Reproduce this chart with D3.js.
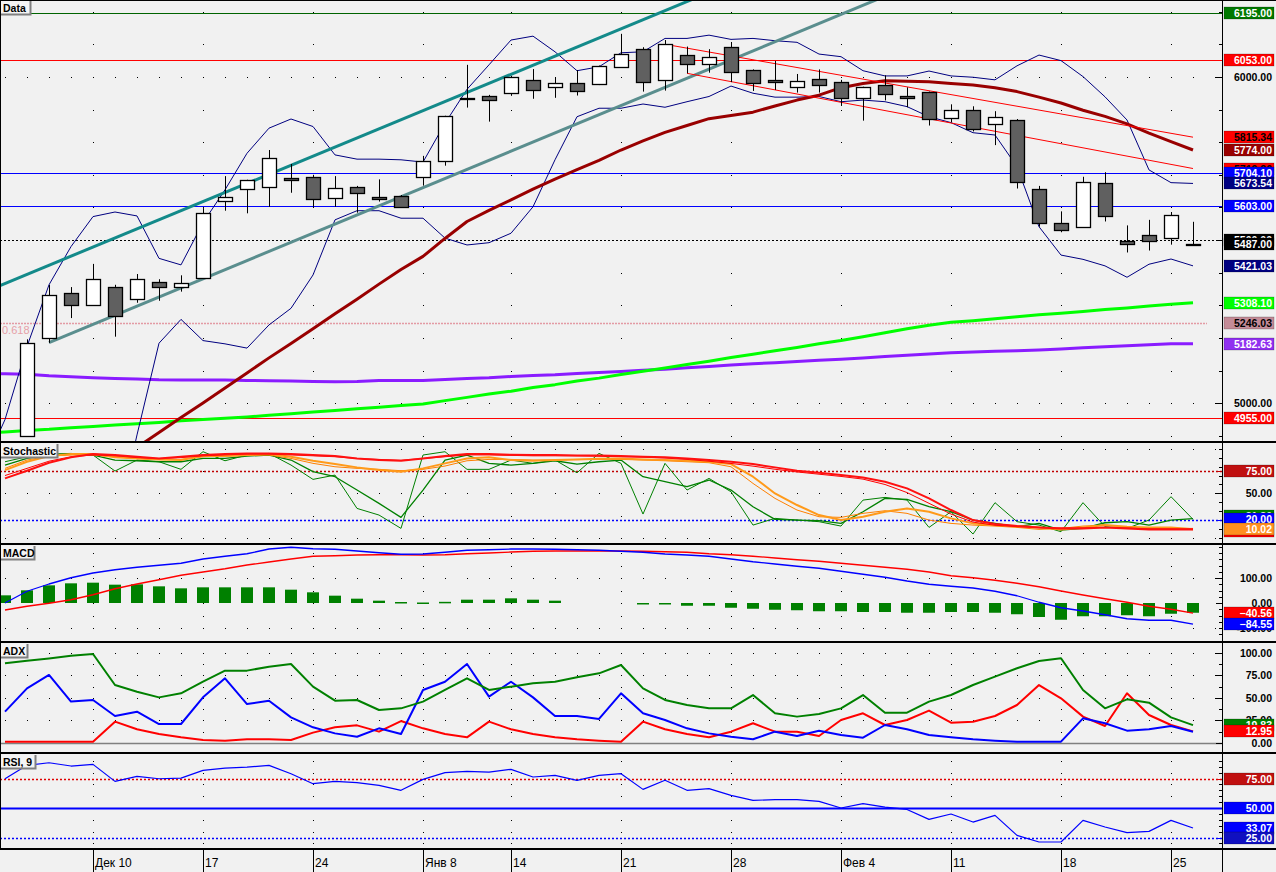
<!DOCTYPE html>
<html><head><meta charset="utf-8">
<script src="https://cdn.jsdelivr.net/npm/d3@7"></script>
<style>body{margin:0;background:#f0f0f0}svg{display:block}</style>
</head><body><div id="chart"></div>
<script>
// ---------------- DATA ----------------
const dates = ["12-05","12-06","12-07","12-10","12-11","12-12","12-13","12-14","12-17","12-18","12-19","12-20","12-21",
"12-24","12-25","12-26","12-27","12-28","01-08","01-09","01-10","01-11","01-14","01-15","01-16","01-17","01-18",
"01-21","01-22","01-23","01-24","01-25","01-28","01-29","01-30","01-31","02-01","02-04","02-05","02-06","02-07","02-08",
"02-11","02-12","02-13","02-14","02-15","02-18","02-19","02-20","02-21","02-22","02-25","02-26"];
const open  = [4900,5199,5337,5300,5356,5319,5373,5357,5382,5619,5656,5662,5689,5693,5627,5662,5631,5635,5694,5742,5934,5941,5949,5990,5968,5980,5977,6030,6085,5990,6066,6039,6091,6020,5990,5968,5993,5984,5935,5974,5941,5953,5873,5898,5855,5867,5656,5552,5539,5674,5498,5515,5506,5489];
const close = [5184,5331,5300,5380,5268,5380,5357,5370,5582,5631,5683,5751,5684,5627,5659,5643,5625,5602,5742,5879,5936,5928,5999,5959,5980,5956,6033,6069,5984,6100,6039,6060,6014,5980,5984,5987,5974,5935,5968,5947,5935,5870,5898,5840,5876,5677,5552,5530,5677,5573,5490,5496,5576,5487];
const high  = [5196,5363,5356,5427,5363,5396,5380,5392,5598,5696,5685,5776,5733,5700,5696,5666,5686,5638,5758,5881,6037,5945,6003,6024,5999,6021,6035,6132,6091,6113,6093,6085,6107,6023,6049,6009,6023,5991,5970,6005,5968,5955,5916,5910,5895,5871,5666,5588,5694,5708,5545,5562,5586,5556];
const low   = [4897,5185,5261,5298,5204,5308,5314,5342,5382,5590,5582,5602,5645,5602,5602,5584,5618,5601,5667,5728,5906,5863,5942,5933,5936,5943,5975,6028,5955,5958,6011,6013,5984,5957,5960,5952,5952,5911,5866,5928,5907,5851,5861,5833,5791,5658,5541,5524,5538,5557,5462,5468,5486,5485];

// overlay series start at bar index -2
const smaRed = [4500,4550,4640,4686,4730,4775,4820,4865,4910,4956,5001,5047,5093,5139,5183,5228,5274,5319,5365,5410,5450,5505,5557,5591,5623,5656,5687,5716,5744,5776,5804,5830,5851,5872,5882,5892,5911,5929,5944,5967,5980,5988,5987,5985,5980,5975,5967,5955,5938,5920,5898,5879,5856,5828,5802,5776];
const maGreen = [4908,4912,4916.5,4920,4925,4929,4933,4937,4941,4946,4950,4954,4958,4963,4968,4973,4978,4983,4988,4993,4998,5008,5018,5028,5037,5048,5057,5068,5077,5088,5098,5108,5119,5129,5140,5150,5161,5171,5182,5192,5204,5216,5228,5239,5248,5253,5259,5265,5271,5276,5281,5287,5292,5298,5303,5308.1];
const maPurple = [5091,5090,5089,5084,5081,5078,5076,5074,5072,5071.5,5071,5071,5070,5069,5068,5067,5066,5067,5069.5,5069.5,5070,5073,5076,5078,5082,5085,5087,5091,5094,5097,5101,5104.5,5108.5,5112.5,5117,5121,5124,5128,5132,5135,5139,5143,5147,5151,5154.5,5157,5159,5161,5163.5,5166.5,5170,5173,5176,5179,5182,5182.63];
const bbUpper = [4800,4950,5174,5363,5480,5572,5586,5574,5444,5424,5553,5654,5766,5843,5871,5848,5761,5748,5748,5746,5739,5858,5962,6037,6113,6125,6077,6019,6031,6074,6077,6118,6118,6128,6115,6118,6111,6106,6070,6062,6019,6003,6003,6018,6003,5999,5991,6034,6067,6050,6001,5939,5868,5715,5676,5673.54];
const bbLower = [4600,4650,4750,4650,4590,4560,4600,4903,5184,5257,5192,5182,5169,5240,5291,5393,5562,5590,5590,5567,5567,5506,5485,5492,5521,5602,5746,5878,5904,5904,5917,5907,5924,5940,5972,5950,5938,5938,5940,5924,5929,5924,5909,5878,5860,5829,5822,5725,5541,5454,5441,5421,5386,5426,5442,5421.03];

// trend lines: [barIndex, price] anchor pairs
const tealUpper = [[0,5395],[30,6231]];
const tealLower = [[1,5186],[38,6219.5]];
const redUpper = [[29,6100],[53,5815.34]];
const redLower = [[30,6011],[53,5719.26]];

const priceLevels = [6195, 6053, 5704.10, 5603, 5500, 4955];
const fibLevel = 5246.03;

// indicator series start at bar index -1
const stochFast = [85.4,91,94,94.7,92.9,75,87.3,85.4,76.9,96.6,86.5,92.9,94.7,81.7,65.7,70.5,33.3,25.9,11,92.9,96.6,76.9,76.9,87.3,83.6,87.3,73.1,94.7,83.6,27,83.6,53.8,66.8,51.9,14.7,22.2,20.3,18.5,13.6,42.6,45.6,42.6,12.1,29.6,4.7,39.7,18.5,14.7,7.3,39.7,12.9,11,20.3,46.4,21.1];
const stochSlow = [81.7,89.1,92.9,94,92.9,87.3,86.5,85.4,85.4,89.1,89.1,91.7,92.9,87.3,74.3,68.7,53.8,38.9,23.3,53.8,87.3,92.9,83.6,81.7,83.6,86.5,82.8,85.4,87.3,68.7,63.1,57.5,65,53.8,35.2,21.1,20.3,19.6,16.6,29.6,44.5,43.4,35.2,29.6,20.3,16.6,12.9,16.6,9.2,11,17.3,18.5,14.7,20.3,21.8];
const stochD1 = [76.1,85.4,91.7,94,94,90.3,89.1,88,87.3,91.7,91.7,92.9,94,91,86.5,82.8,79.1,76.1,74.3,78,83.6,89.1,90.3,87.3,86.5,87.3,88,88.8,89.1,88,87.3,86.5,85.4,82.8,68.7,50,37.1,25.9,20.3,24,29.6,33.3,29.6,22.2,16.6,14.7,13.6,12.1,9.9,12.1,14.7,12.9,12.1,12.1,10.02];
const stochD2 = [78,87.3,91.7,92.9,92.9,91,89.1,88,88,91,91.7,92.5,92.9,89.1,83.6,79.8,78,76.9,75.4,76.9,80.6,86.5,88,88,87.3,87.3,88,88,88,87.3,86.5,85.4,84.3,79.8,61.2,44.5,31.5,24,23.3,27.8,30.7,27.8,20.3,16.6,14.7,13.6,12.1,9.9,11,13.6,14.7,12.1,11,11,11];
const stochR1 = [66.8,75.4,84.3,90.3,94,92.9,91,89.1,91,92.9,94,94.7,94.7,94,92.9,91.7,89.1,87.3,86.5,89.1,91.7,94,94,93.2,92.9,92.9,92.5,92.5,91.7,91,90.3,89.1,87.3,85.4,82.8,79.1,75.4,73.1,70.5,67.9,63.1,55.7,44.5,31.5,20.3,15.9,13.6,12.1,11,11,12.1,11,9.9,9.9,9.9];
const stochR2 = [70,78,86,91,93,92,90,89,90,92,93,94,94,93,92,91,89,88,87,89,91,93,93,92.5,92,92,92,91.5,91,90.5,89.5,88,86,83.5,80.5,77,74,71.5,69,66,60,51,39,27,18,14.5,13,12,11.5,11.5,12,11.5,10.5,10.5,10.5];

const macdLine = [0,47,76,101,120,133,143,151,159,176,187,197,216,223,217,215,208,201,195,196,203,211,213,216,216,215,213,211,207,203,196,192,187,176,165,156,147,139,127,115,103,88,75,67,60,47,29,3,-19,-32,-47,-63,-69,-69,-84.55];
const macdSignal = [-28,-13,-1,13,33,57,76,93,111,124,137,152,164,176,187,189,192,193,193,192,193,197,200,204,207,208,208,208,208,207,205,203,197,193,187,180,173,167,159,151,143,135,124,109,101,91,79,65,48,32,17,3,-13,-25,-40.56];
const macdHist = [30.7,50.7,70.7,78.7,81.3,73.3,74.7,66.7,58.7,62.7,62.7,62.7,62.7,53.3,42.7,29.3,17.3,9.3,4,2,4.7,13.3,13.3,18.7,13.3,9.3,0,0,0,-4,-3,-11,-11,-19,-23,-27,-29,-33,-33,-36,-36,-39,-39,-36,-36,-39,-45,-56,-67,-53,-53,-49,-53,-43,-39];

const adx = [88.6,91.5,94,97,98.9,64.4,57,50.7,55.2,68.1,80.4,80.4,84.8,87.8,62.6,47,47.8,36.7,38.5,46,58.9,71.9,58.9,62.6,66.3,68.1,73,77.4,86.7,60.7,47.8,42.2,38.5,38.5,53.3,33,29.3,32.2,38.5,53.3,33.7,33.7,46,53.3,64.4,73.7,83,91.1,94.1,58.9,38.5,48.5,44.8,28.5,19.83];
const plusDI = [34.8,60.7,75.6,46,47.8,30,34.8,21.1,21.1,50.7,71.9,43.3,47,28.5,17.4,10.7,7,16.3,10,58.9,68.1,87.8,51.5,68.1,50.7,30,30,26.7,55.2,33,25.6,16.3,10.7,7,4.1,12.6,7.8,13.7,8.9,5.9,20,15.2,8.9,6.3,4.1,2.6,1.5,1.5,1.5,27.4,21.9,13.7,15.2,18.9,12.6];
const minusDI = [1.5,1.5,1.5,1.5,1.5,23.7,15.2,10,6.3,3.3,2.6,4.1,4.1,3.3,11.5,17.4,19.6,12.6,24.4,16.3,10,6.3,23.7,15.2,10,6.3,4.1,2.6,1.5,23.7,15.2,10,6.3,12.6,21.9,12.6,12.6,7.8,25.6,33,20,25.6,36,22.6,23.7,30,42.2,64.4,49.6,29.3,18.9,55.2,31.1,20,12.95];

const rsi = [74.8,86.2,88.4,85.6,87,72.6,76.8,74.8,75.4,81.9,83.9,84.7,86.2,79.1,70.6,72.6,71.5,69.2,65,74.3,80,81.1,80.5,82.8,76.3,77.7,73.5,77.7,79.1,65.8,73.5,65,66.4,60.7,56.5,57.1,57.1,55.6,50,53.7,50.8,48.8,40.4,44.9,38.1,43.8,26.8,21.2,21.2,39.5,33.9,29.1,30.2,39.5,33.07];

const tickIdx = [3,8,13,18,22,27,32,37,42,47,52];
const tickText = ["Дек 10","17","24","Янв 8","14","21","28","Фев 4","11","18","25"];

// ---------------- CHART ----------------
const W = 1276, H = 872, R = 1222;
const FONT = "'Liberation Sans', Arial, sans-serif";
const svg = d3.select('#chart').append('svg').attr('width', W).attr('height', H)
  .style('font-family', FONT);
svg.append('rect').attr('width', W).attr('height', H).attr('fill', '#f1f1f1');

const x = d3.scaleLinear().domain([0, 53]).range([27, 1193]);
const yP = d3.scaleLinear().domain([4884.3, 6235.7]).range([441, 0]);
const yS = d3.scaleLinear().domain([-5.3, 105.2]).range([543, 444]);
const yM = d3.scaleLinear().domain([-152, 232]).range([641, 545]);
const yA = d3.scaleLinear().domain([-10, 111.1]).range([752, 643]);
const yR = d3.scaleLinear().domain([16.1, 95.8]).range([848, 754]);

const defs = svg.append('defs');
function clip(id, y0, y1) {
  defs.append('clipPath').attr('id', id).append('rect').attr('x', 0).attr('y', y0).attr('width', R).attr('height', y1 - y0);
  return svg.append('g').attr('clip-path', `url(#${id})`);
}
const gP = clip('cp', 1, 441), gS = clip('cs', 444, 543), gM = clip('cm', 546, 641), gA = clip('ca', 644, 752), gR = clip('cr', 755, 848);

function dot(g, px, py) { g.append('rect').attr('x', Math.round(px)).attr('y', Math.round(py)).attr('width', 1).attr('height', 1).attr('fill', '#000'); }
const allIdx = d3.range(-1, 55);
function gridCols(g, yScale, levels) { tickIdx.forEach(i => levels.forEach(l => dot(g, x(i), yScale(l)))); }
function gridRows(g, yScale, levels) { levels.forEach(l => allIdx.forEach(i => dot(g, x(i), yScale(l)))); }

// grids
gridCols(gP, yP, d3.range(4900, 6201, 100));
gridRows(gP, yP, [5000, 6000]);
gridCols(gS, yS, [0, 25, 50, 75, 100]);
gridRows(gS, yS, [0, 50, 100]);
gridCols(gM, yM, [-100, -50, 0, 50, 100, 150, 200]);
gridRows(gM, yM, [100, -100]);
gridCols(gA, yA, [12.5, 25, 37.5, 50, 62.5, 75, 87.5, 100]);
gridRows(gA, yA, [25, 50, 75, 100]);
gridCols(gR, yR, [20, 30, 40, 60, 70, 80, 90]);

function hline(g, y, color, w, dash, x1) {
  const l = g.append('line').attr('x1', 0).attr('x2', x1 || R).attr('y1', Math.round(y) + 0.5).attr('y2', Math.round(y) + 0.5)
    .attr('stroke', color).attr('stroke-width', w || 1);
  if (dash) l.attr('stroke-dasharray', dash);
}
// price horizontal levels
const levelColor = ['#006400', '#ff0000', '#0000ff', '#0000ff', '#000000', '#ff0000'];
priceLevels.forEach((v, k) => hline(gP, yP(v), levelColor[k], 1, v === 5500 ? '2,2' : null));
hline(gP, yP(fibLevel), '#e39aa4', 1.3, '2,1', 1207);
gP.append('text').attr('x', 2).attr('y', yP(fibLevel) + 11).attr('fill', '#e6a0a8').attr('font-size', 11).text('0.618');

function seriesLine(g, arr, start, yScale, color, w) {
  g.append('path').datum(arr).attr('fill', 'none').attr('stroke', color).attr('stroke-width', w)
    .attr('stroke-linejoin', 'round')
    .attr('d', d3.line().x((d, k) => x(k + start)).y(d => yScale(d)));
}
function trend(g, pts, i0, i1, color, w) {
  const [[a, pa], [b, pb]] = pts;
  const f = i => pa + (pb - pa) * (i - a) / (b - a);
  g.append('path').datum([i0, i1]).attr('fill', 'none').attr('stroke', color).attr('stroke-width', w)
    .attr('d', d3.line().x(i => x(i)).y(i => yP(f(i))));
}

// moving averages & bands
seriesLine(gP, maPurple, -2, yP, '#8a1cff', 3);
seriesLine(gP, maGreen, -2, yP, '#00ff00', 3);
seriesLine(gP, bbUpper, -2, yP, '#000080', 1);
seriesLine(gP, bbLower, -2, yP, '#000080', 1);
seriesLine(gP, smaRed, -2, yP, '#990000', 3);
trend(gP, tealUpper, -1.3, 33, '#138a8a', 3);
trend(gP, tealLower, 1, 40, '#5a8e8e', 3);
trend(gP, redUpper, 29, 53, '#ff0000', 1);
trend(gP, redLower, 30, 53, '#ff0000', 1);

// candles
d3.range(open.length).forEach(i => {
  const cx = Math.round(x(i)) + 0.5;
  gP.append('line').attr('x1', cx).attr('x2', cx).attr('y1', yP(high[i])).attr('y2', yP(low[i])).attr('stroke', '#000');
  const top = yP(Math.max(open[i], close[i])), bot = yP(Math.min(open[i], close[i]));
  gP.append('rect').attr('x', cx - 7).attr('y', Math.round(top) + 0.5).attr('width', 14)
    .attr('height', Math.max(1, Math.round(bot - top)))
    .attr('fill', close[i] >= open[i] ? '#ffffff' : '#606060').attr('stroke', '#000').attr('stroke-width', 1.3);
});

// stochastic
hline(gS, yS(75), '#c00000', 1.3, '2,2');
hline(gS, yS(20), '#0000ff', 1.3, '2,2');
seriesLine(gS, stochFast, -1, yS, '#008000', 1);
seriesLine(gS, stochSlow, -1, yS, '#008000', 1.3);
seriesLine(gS, stochD2, -1, yS, '#ff8000', 1);
seriesLine(gS, stochD1, -1, yS, '#ff9a1a', 2);
seriesLine(gS, stochR2, -1, yS, '#ff0000', 1);
seriesLine(gS, stochR1, -1, yS, '#ff1010', 2);

// MACD
macdHist.forEach((v, k) => {
  if (v === 0) return;
  const y0 = yM(0), y1 = yM(v);
  gM.append('rect').attr('x', Math.round(x(k - 1)) - 6).attr('width', 12)
    .attr('y', Math.min(y0, y1)).attr('height', Math.max(1.5, Math.abs(y1 - y0))).attr('fill', '#008000');
});
seriesLine(gM, macdSignal, -1, yM, '#ff0000', 1.3);
seriesLine(gM, macdLine, -1, yM, '#0000ff', 1.3);

// ADX
hline(gA, yA(0), '#808080', 1.3);
seriesLine(gA, minusDI, -1, yA, '#ff0000', 2);
seriesLine(gA, plusDI, -1, yA, '#0000ff', 2);
seriesLine(gA, adx, -1, yA, '#008000', 2);

// RSI
hline(gR, yR(75), '#e00000', 1.3, '2,2');
hline(gR, yR(50), '#0000ff', 2);
hline(gR, yR(25), '#0000ff', 1.3, '2,2');
seriesLine(gR, rsi, -1, yR, '#0000ff', 1.2);

// panel borders
svg.append('rect').attr('x', 0).attr('y', 0).attr('width', R).attr('height', 1).attr('fill', '#000');
svg.append('rect').attr('x', 0).attr('y', 0).attr('width', 1).attr('height', 849).attr('fill', '#000');
[[441, 2], [543, 2], [641, 2], [752, 2], [848, 2]].forEach(([y, h]) =>
  svg.append('rect').attr('x', 0).attr('y', y).attr('width', W).attr('height', h).attr('fill', '#000'));
svg.append('rect').attr('x', R).attr('y', 0).attr('width', 1).attr('height', H).attr('fill', '#000');
svg.append('rect').attr('x', 0).attr('y', 0).attr('width', W).attr('height', 1).attr('fill', '#000');

// axis ticks (left of axis line)
function axisTicks(yScale, minor, major) {
  minor.forEach(v => svg.append('line').attr('x1', R - 3).attr('x2', R).attr('y1', Math.round(yScale(v)) + 0.5).attr('y2', Math.round(yScale(v)) + 0.5).attr('stroke', '#000'));
  major.forEach(v => svg.append('line').attr('x1', R - 6).attr('x2', R).attr('y1', Math.round(yScale(v)) + 0.5).attr('y2', Math.round(yScale(v)) + 0.5).attr('stroke', '#000'));
}
axisTicks(yP, d3.range(4900, 6201, 100), [5000, 6000]);
axisTicks(yS, d3.range(0, 101, 10), [50]);
axisTicks(yM, d3.range(-125, 226, 25), [0, 100]);
axisTicks(yA, d3.range(0, 101, 12.5), [0, 25, 50, 75, 100]);
axisTicks(yR, d3.range(20, 95, 5), []);

function colorTick(y, color) {
  svg.append('line').attr('x1', R - 6).attr('x2', R).attr('y1', Math.round(y) + 0.5).attr('y2', Math.round(y) + 0.5).attr('stroke', color).attr('stroke-width', 1);
}
priceLevels.forEach((v, k) => colorTick(yP(v), levelColor[k]));
colorTick(yS(75), '#c00000'); colorTick(yS(20), '#0000ff');
colorTick(yR(75), '#e00000'); colorTick(yR(50), '#0000ff'); colorTick(yR(25), '#0000ff');

// right labels
function plain(y, text) {
  svg.append('text').attr('x', 1272).attr('y', y + 4).attr('text-anchor', 'end').attr('font-size', 10.5)
    .attr('font-weight', 'bold').attr('fill', '#000').text(text);
}
function tag(y, text, bg, fg) {
  const yy = Math.round(y);
  svg.append('rect').attr('x', 1224).attr('y', yy - 6).attr('width', 50).attr('height', 12).attr('fill', bg)
    .attr('stroke', 'rgba(0,0,0,0.35)').attr('stroke-width', 0.6);
  svg.append('text').attr('x', 1272).attr('y', yy + 4).attr('text-anchor', 'end').attr('font-size', 10.5)
    .attr('font-weight', 'bold').attr('fill', fg).text(text);
}
const fmt = d3.format('.2f');
plain(yP(6000), '6000.00'); plain(yP(5000), '5000.00');
tag(yP(priceLevels[0]), fmt(priceLevels[0]), '#007800', '#fff');
tag(yP(priceLevels[1]), fmt(priceLevels[1]), '#ff0000', '#fff');
tag(yP(redUpper[1][1]), fmt(redUpper[1][1]), '#ff0000', '#000');
tag(yP(smaRed[smaRed.length - 1]), fmt(5774), '#990000', '#fff');
tag(yP(redLower[1][1]), fmt(redLower[1][1]), '#ff0000', '#000');
tag(yP(priceLevels[2]), fmt(priceLevels[2]), '#0000ff', '#fff');
tag(yP(bbUpper[bbUpper.length - 1]), fmt(bbUpper[bbUpper.length - 1]), '#000080', '#fff');
tag(yP(priceLevels[3]), fmt(priceLevels[3]), '#0000ff', '#fff');
tag(yP(priceLevels[4]), fmt(priceLevels[4]), '#000000', '#fff');
tag(yP(close[close.length - 1]), fmt(close[close.length - 1]), '#000000', '#fff');
tag(yP(bbLower[bbLower.length - 1]), fmt(bbLower[bbLower.length - 1]), '#000080', '#fff');
tag(yP(maGreen[maGreen.length - 1]), fmt(maGreen[maGreen.length - 1]), '#00ff00', '#fff');
tag(yP(fibLevel), fmt(fibLevel), '#c48c98', '#000');
tag(yP(maPurple[maPurple.length - 1]), fmt(maPurple[maPurple.length - 1]), '#9030f0', '#fff');
tag(yP(priceLevels[5]), fmt(priceLevels[5]), '#ff0000', '#fff');

tag(yS(75), '75.00', '#c01010', '#fff');
plain(yS(50), '50.00');
tag(yS(stochR1[stochR1.length - 1]) + 2, fmt(stochR1[stochR1.length - 1]), '#ff0000', '#fff');
tag(yS(stochSlow[stochSlow.length - 1]) - 3, fmt(stochSlow[stochSlow.length - 1]), '#008000', '#fff');
tag(yS(20) - 1, '20.00', '#0000ff', '#fff');
tag(yS(stochD1[stochD1.length - 1]), fmt(stochD1[stochD1.length - 1]), '#ff9020', '#fff');

plain(yM(100), '100.00');
plain(yM(0), '0.00');
plain(yM(-100), '-100.00');
tag(yM(macdSignal[macdSignal.length - 1]), fmt(macdSignal[macdSignal.length - 1]), '#ff0000', '#fff');
tag(yM(macdLine[macdLine.length - 1]), fmt(macdLine[macdLine.length - 1]), '#0000ff', '#fff');

plain(yA(100), '100.00'); plain(yA(75), '75.00'); plain(yA(50), '50.00'); plain(yA(25), '25.00'); plain(yA(0), '0.00');
tag(yA(adx[adx.length - 1]), fmt(adx[adx.length - 1]), '#008000', '#fff');
tag(yA(minusDI[minusDI.length - 1]), fmt(minusDI[minusDI.length - 1]), '#ff0000', '#fff');

tag(yR(75), '75.00', '#c01010', '#fff');
tag(yR(50), '50.00', '#0000ff', '#fff');
tag(yR(rsi[rsi.length - 1]), fmt(rsi[rsi.length - 1]), '#0000ff', '#fff');
tag(yR(25), '25.00', '#1010c0', '#fff');

// panel titles
function title(y, text, w) {
  svg.append('rect').attr('x', 1).attr('y', y).attr('width', w).attr('height', 13).attr('fill', '#f4f4f4');
  svg.append('path').attr('d', `M1,${y + 13.5}H${w + 1.5}V${y}`).attr('fill', 'none').attr('stroke', '#808080').attr('stroke-width', 2);
  svg.append('text').attr('x', 3).attr('y', y + 10.5).attr('font-size', 10.5).attr('font-weight', 'bold').attr('fill', '#000').text(text);
}
title(1, 'Data', 29);
title(444, 'Stochastic', 56);
title(546, 'MACD', 33);
title(644, 'ADX', 26);
title(755, 'RSI, 9', 34);

// x axis
tickIdx.forEach((i, k) => {
  const tx = Math.round(x(i)) + 0.5;
  svg.append('line').attr('x1', tx).attr('x2', tx).attr('y1', 850).attr('y2', 872).attr('stroke', '#000');
  svg.append('text').attr('x', tx + 1.5).attr('y', 867).attr('font-size', 12).attr('fill', '#000').text(tickText[k]);
});
</script></body></html>
